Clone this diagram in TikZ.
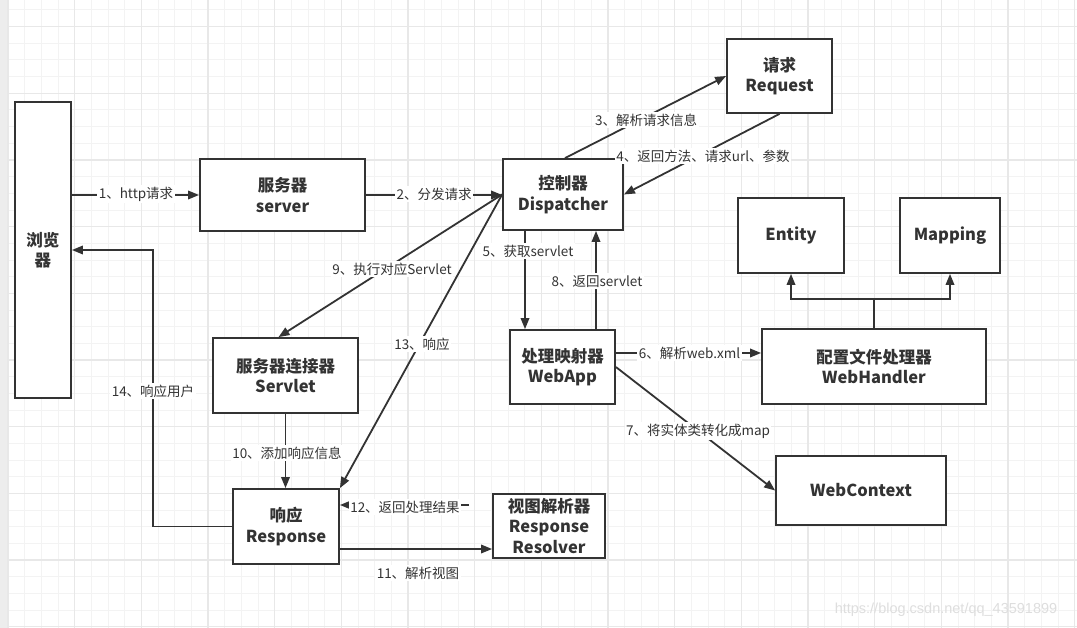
\documentclass[tikz,border=0pt]{standalone}
\usepackage{fontspec}
\newfontfamily\cjk{Noto Sans CJK SC}
\newfontfamily\wmf{Liberation Sans}
\usetikzlibrary{arrows.meta,calc}
\definecolor{ink}{HTML}{333333}
\definecolor{gmin}{HTML}{F3F3F3}
\definecolor{gmaj}{HTML}{E8E8E8}
\begin{document}
\begin{tikzpicture}[x=1pt,y=-1pt,
  box/.style={draw=ink,line width=1.8pt,fill=white,inner sep=0pt,align=center,text=ink,
    font=\cjk\bfseries\fontsize{16.5}{20.5}\selectfont},
  arr/.style={draw=ink,line width=1.8pt,-{Triangle[length=11pt,width=8.5pt]}},
  ln/.style={draw=ink,line width=1.8pt},
  lbl/.style={fill=white,text=ink,inner sep=1.5pt,font=\cjk\fontsize{13.5}{15}\selectfont}]
\useasboundingbox (0,0) rectangle (1077,628);
% background grid
\begin{scope}
\clip (0,0) rectangle (1077,628);
\fill[white] (0,0) rectangle (1077,628);
\foreach \i in {0,...,64} \draw[gmin,line width=1pt] ({8+16.667*\i},0) -- ({8+16.667*\i},628);
\foreach \i in {0,...,37} \draw[gmin,line width=1pt] (0,{10+16.667*\i}) -- (1077,{10+16.667*\i});
\foreach \i in {0,...,16} \draw[gmaj,line width=1.3pt] ({8+66.667*\i},0) -- ({8+66.667*\i},628);
\foreach \i in {0,...,9} \draw[gmaj,line width=1.3pt] (0,{26.667+66.667*\i}) -- (1077,{26.667+66.667*\i});
\fill[black!7] (0,0) rectangle (7,628);
\end{scope}
% nodes
\node[box,minimum width=56,minimum height=296] (browser) at (43,250) {浏览\\器};
\node[box,minimum width=165,minimum height=72] (server) at (282.5,195) {服务器\\server};
\node[box,minimum width=120,minimum height=71] (disp) at (563,194.5) {控制器\\Dispatcher};
\node[box,minimum width=105,minimum height=74] (request) at (779.5,76) {请求\\Request};
\node[box,minimum width=106,minimum height=75] (entity) at (791,235.5) {Entity};
\node[box,minimum width=100,minimum height=75] (mapping) at (950,235.5) {Mapping};
\node[box,minimum width=105,minimum height=74] (webapp) at (562.5,367) {处理映射器\\WebApp};
\node[box,minimum width=224,minimum height=75] (wh) at (874,366.5) {配置文件处理器\\WebHandler};
\node[box,minimum width=170,minimum height=69] (webctx) at (861,490.5) {WebContext};
\node[box,minimum width=145,minimum height=75] (servlet) at (285.5,375.5) {服务器连接器\\Servlet};
\node[box,minimum width=106,minimum height=75] (response) at (286,526.5) {响应\\Response};
\node[box,minimum width=112,minimum height=64] (resolver) at (549,526) {视图解析器\\Response\\Resolver};
% helper coordinates
\coordinate (c3) at ($(disp.north)+(2,0)$);
\coordinate (c5) at ($(disp.south)+(-38,0)$);
\coordinate (c8) at ($(webapp.north)+(33.5,0)$);
\coordinate (c6) at ($(webapp.east)+(0,-14)$);
\coordinate (c9) at ($(servlet.north)+(-7,0)$);
\coordinate (c11) at ($(response.east)+(0,22.5)$);
\coordinate (c12) at ($(resolver.west)+(-23,-21)$);
\coordinate (c14) at ($(browser.east)+(81,0)$);
% connectors
\draw[arr] (browser.east |- server.west) -- (server.west);
\draw[arr] (server.east) -- (disp.west |- server.east);
\draw[arr] (c3) -- (request.west);
\draw[arr] (request.south) -- (disp.east);
\draw[arr] (c5) -- (c5 |- webapp.north);
\draw[arr] (c8) -- (c8 |- disp.south);
\draw[arr] (c6) -- (c6 -| wh.west);
\draw[arr] (webapp.east) -- (webctx.west);
\draw[arr] (wh.north) -- ++(0,-29) -| (entity.south);
\draw[arr] (wh.north) -- ++(0,-29) -| (mapping.south);
\draw[arr] (disp.west) -- (c9);
\draw[arr] (disp.west) -- (response.north east);
\draw[arr] (servlet.south) -- (servlet.south |- response.north);
\draw[arr] (c11) -- (c11 -| resolver.west);
\draw[arr] (c12) -- (c12 -| response.east);
\draw[arr] (response.west) -| (c14) -- (browser.east);
% labels
\node[lbl] (l1) at (136,194) {1、http请求};
\node[lbl] (l2) at (434,194) {2、分发请求};
\node[lbl] (l3) at (646,120) {3、解析请求信息};
\node[lbl] (l4) at (703,156) {4、返回方法、请求url、参数};
\node[lbl] (l5) at (528,251) {5、获取servlet};
\node[lbl] (l8) at (597,281) {8、返回servlet};
\node[lbl] (l6) at (689.5,353) {6、解析web.xml};
\node[lbl] (l7) at (698,431) {7、将实体类转化成map};
\node[lbl] (l9) at (392,269) {9、执行对应Servlet};
\node[lbl] (l13) at (422,344) {13、响应};
\node[lbl] (l10) at (287,453) {10、添加响应信息};
\node[lbl] (l11) at (418,573) {11、解析视图};
\node[lbl] (l12) at (405,507) {12、返回处理结果};
\node[lbl] (l14) at (153,391) {14、响应用户};
\node[text=black!13,font=\wmf\fontsize{14.5}{16}\selectfont] (wm) at (946,610) {https://blog.csdn.net/qq\_43591899};
\end{tikzpicture}
\end{document}
